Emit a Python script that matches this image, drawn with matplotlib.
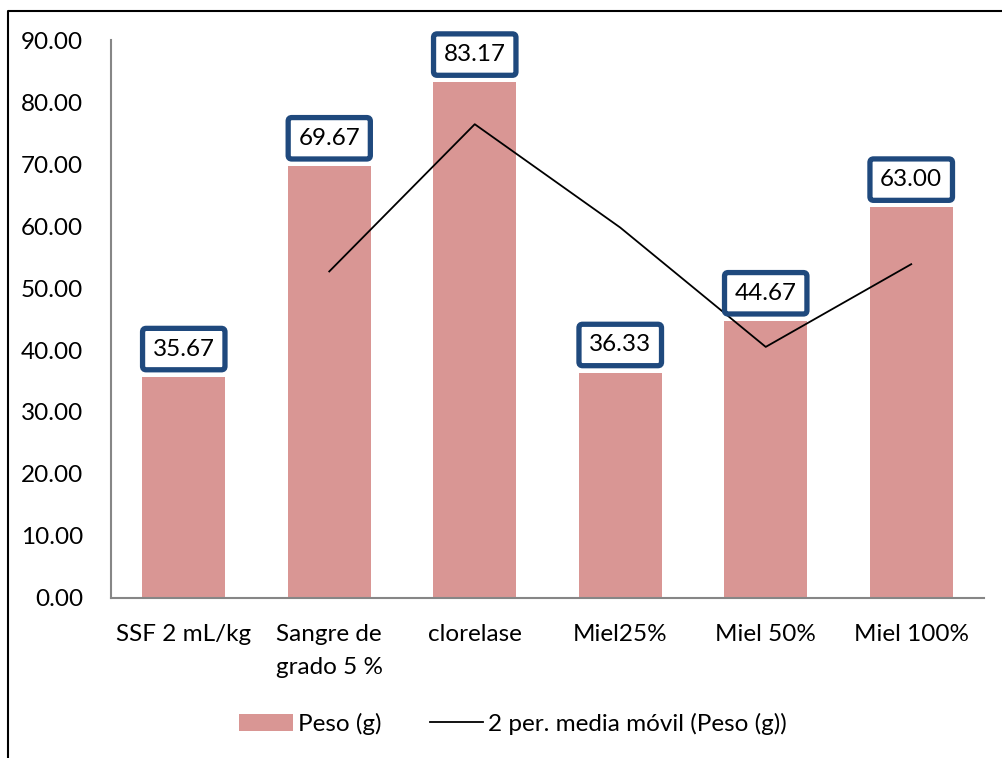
import matplotlib
matplotlib.use('Agg')

import matplotlib.pyplot as plt
from matplotlib.lines import Line2D
from matplotlib.ticker import FormatStrFormatter

plt.rcParams['font.family'] = ['Lato', 'DejaVu Sans']

categories = ['SSF 2 mL/kg', 'Sangre de\ngrado 5 %', 'clorelase', 'Miel25%', 'Miel 50%', 'Miel 100%']
peso = [35.67, 69.67, 83.17, 36.33, 44.67, 63.00]
# 2 per. media movil (starts at the 2nd category)
media_movil = [52.67, 76.42, 59.75, 40.50, 53.84]

bar_color = '#D99694'
box_color = '#1F497D'
axis_color = '#868686'
fs = 17.5

fig = plt.figure(figsize=(10.02, 7.58), dpi=100)
ax = fig.add_axes([0.1108, 0.2111, 0.8712, 0.7361])

x = list(range(len(categories)))
bars = ax.bar(x, peso, width=0.57, color=bar_color, label='Peso (g)', zorder=2)
line, = ax.plot(x[1:], media_movil, color='black', lw=1.3, label='2 per. media móvil (Peso (g))', zorder=3)

for xi, v in zip(x, peso):
    ax.annotate(f'{v:.2f}', xy=(xi, v), xytext=(0, 20), textcoords='offset points',
                ha='center', va='center', fontsize=fs, color='black', zorder=4,
                bbox=dict(boxstyle='round,pad=0.42,rounding_size=0.15', facecolor='white',
                          edgecolor=box_color, lw=3.8))

ax.set_xlim(-0.5, len(categories) - 0.5)
ax.set_ylim(0, 90)
ax.set_yticks(range(0, 91, 10))
ax.yaxis.set_major_formatter(FormatStrFormatter('%.2f'))
ax.set_xticks(x)
ax.set_xticklabels([])
ax.tick_params(axis='both', length=0, labelsize=fs)
ax.tick_params(axis='y', pad=20)

# category labels drawn as text so the two-line label gets Excel-like spacing
for xi, cat in zip(x, categories):
    ax.annotate(cat, xy=(xi, 0), xycoords=('data', 'axes fraction'),
                xytext=(0, -19), textcoords='offset points',
                ha='center', va='top', fontsize=fs, linespacing=1.7, annotation_clip=False)

for s in ['top', 'right']:
    ax.spines[s].set_visible(False)
ax.spines['left'].set_color(axis_color)
ax.spines['bottom'].set_color(axis_color)
ax.spines['left'].set_linewidth(1.5)
ax.spines['bottom'].set_linewidth(1.5)

fig.legend([bars, line], ['Peso (g)', '2 per. media móvil (Peso (g))'],
           loc='center', bbox_to_anchor=(0.512, 0.045), ncol=2, frameon=False,
           fontsize=fs, handlelength=2.2, handletextpad=0.2, columnspacing=2.0)

# chart area border (cropped on the right and bottom)
bx = 8 / 1002
by = 1 - 11 / 758
fig.add_artist(Line2D([bx, bx, 1.0], [0.0, by, by], transform=fig.transFigure,
                      color='black', lw=1.5))

fig.savefig('out.png', dpi=100)
plt.close(fig)
